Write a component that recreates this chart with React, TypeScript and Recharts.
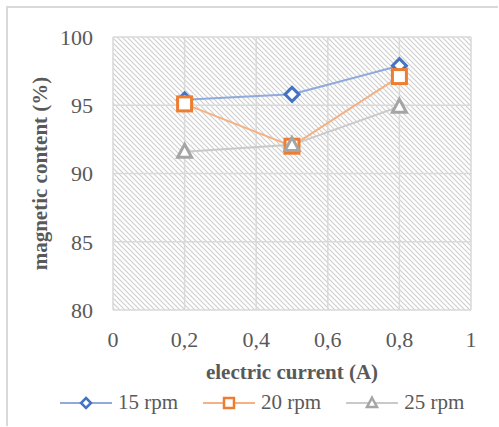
import React from "react";
import { LineChart, Line, XAxis, YAxis, CartesianGrid, Label } from "recharts";

// values
const currents = [0.2, 0.5, 0.8];
const rpm15 = [95.4, 95.8, 97.9];
const rpm20 = [95.1, 92.0, 97.1];
const rpm25 = [91.6, 92.1, 94.9];
const seriesNames = ["15 rpm", "20 rpm", "25 rpm"];
const xTicks = [0, 0.2, 0.4, 0.6, 0.8, 1];
const yTicks = [80, 85, 90, 95, 100];

const data = currents.map((c, i) => ({
  current: c,
  s15: rpm15[i],
  s20: rpm20[i],
  s25: rpm25[i],
}));

type Shape = "diamond" | "square" | "triangle";

const series: { key: string; name: string; marker: string; line: string; shape: Shape }[] = [
  { key: "s15", name: seriesNames[0], marker: "#4472C4", line: "#8FAADC", shape: "diamond" },
  { key: "s20", name: seriesNames[1], marker: "#ED7D31", line: "#F4B183", shape: "square" },
  { key: "s25", name: seriesNames[2], marker: "#A5A5A5", line: "#C9C9C9", shape: "triangle" },
];

const FONT = "Liberation Serif";
const TEXT = "#595959";
const GRID = "#d9d9d9";

function markerEl(shape: Shape, cx: number, cy: number, r: number, color: string, sw: number, key?: string) {
  if (shape === "diamond") {
    return (
      <path
        key={key}
        d={`M${cx},${cy - r} L${cx + r},${cy} L${cx},${cy + r} L${cx - r},${cy} Z`}
        fill="#fff"
        stroke={color}
        strokeWidth={sw}
      />
    );
  }
  if (shape === "square") {
    return (
      <rect key={key} x={cx - r} y={cy - r} width={r * 2} height={r * 2} fill="#fff" stroke={color} strokeWidth={sw} />
    );
  }
  return (
    <path
      key={key}
      d={`M${cx},${cy - r * 1.05} L${cx + r},${cy + r * 0.8} L${cx - r},${cy + r * 0.8} Z`}
      fill="#fff"
      stroke={color}
      strokeWidth={sw}
    />
  );
}

function ChartLegend() {
  return (
    <div
      style={{
        position: "absolute",
        left: 60,
        top: 390,
        display: "flex",
        alignItems: "center",
        fontFamily: FONT,
        fontSize: 21,
        color: TEXT,
      }}
    >
      {series.map((s) => (
        <div key={s.key} style={{ display: "flex", alignItems: "center", marginRight: 25 }}>
          <svg width={52} height={24}>
            <line x1={0} y1={12} x2={52} y2={12} stroke={s.line} strokeWidth={2} />
            {markerEl(s.shape, 26, 12, 5, s.marker, 2.5)}
          </svg>
          <span style={{ marginLeft: 6 }}>{s.name}</span>
        </div>
      ))}
    </div>
  );
}

export default function App() {
  return (
    <div style={{ position: "absolute", left: 0, top: 0, width: 499, height: 427, background: "#fff" }}>
      <div
        style={{
          position: "absolute",
          left: 6,
          top: 6,
          width: 490,
          height: 418,
          borderLeft: `2px solid ${GRID}`,
          borderTop: `2px solid ${GRID}`,
        }}
      />
      <LineChart
        width={499}
        height={427}
        data={data}
        margin={{ top: 37, right: 28, bottom: 0, left: 0 }}
        style={{ position: "absolute", left: 0, top: 0 }}
      >
        <defs>
          <pattern id="hatch" width={5} height={5} patternUnits="userSpaceOnUse">
            <path d="M0,0 L5,5 M-1,4 L1,6 M4,-1 L6,1" stroke="#cfcfcf" strokeWidth={1.2} />
          </pattern>
        </defs>
        <CartesianGrid
          stroke={GRID}
          strokeWidth={1.5}
          fill="url(#hatch)"
          fillOpacity={1}
          horizontalValues={yTicks}
          verticalValues={xTicks}
        />
        <XAxis
          type="number"
          dataKey="current"
          domain={[0, 1]}
          ticks={xTicks}
          interval={0}
          height={117}
          axisLine={false}
          tickLine={false}
          tickSize={0}
          tickMargin={21}
          tickFormatter={(v: number) => String(v).replace(".", ",")}
          tick={{ fill: TEXT, fontSize: 22, fontFamily: FONT }}
        >
          <Label
            content={({ viewBox }: any) => (
              <text
                x={viewBox.x + viewBox.width / 2}
                y={viewBox.y + 69}
                textAnchor="middle"
                fill={TEXT}
                fontFamily={FONT}
                fontSize={21}
                fontWeight="bold"
              >
                electric current (A)
              </text>
            )}
          />
        </XAxis>
        <YAxis
          type="number"
          domain={[80, 100]}
          ticks={yTicks}
          interval={0}
          width={113}
          axisLine={false}
          tickLine={false}
          tickSize={0}
          tickMargin={20}
          tick={{ fill: TEXT, fontSize: 22, fontFamily: FONT }}
        >
          <Label
            content={({ viewBox }: any) => {
              const cx = viewBox.x + 47;
              const cy = viewBox.y + viewBox.height / 2;
              return (
                <text
                  x={cx}
                  y={cy}
                  transform={`rotate(-90 ${cx} ${cy})`}
                  textAnchor="middle"
                  fill={TEXT}
                  fontFamily={FONT}
                  fontSize={21}
                  fontWeight="bold"
                >
                  magnetic content (%)
                </text>
              );
            }}
          />
        </YAxis>
        {series.map((s) => (
          <Line
            key={s.key}
            dataKey={s.key}
            name={s.name}
            type="linear"
            stroke={s.line}
            strokeWidth={2}
            isAnimationActive={false}
            activeDot={false}
            dot={(p: any) => markerEl(s.shape, p.cx, p.cy, 7, s.marker, 3, `${s.key}-${p.index}`)}
          />
        ))}
      </LineChart>
      <ChartLegend />
    </div>
  );
}
